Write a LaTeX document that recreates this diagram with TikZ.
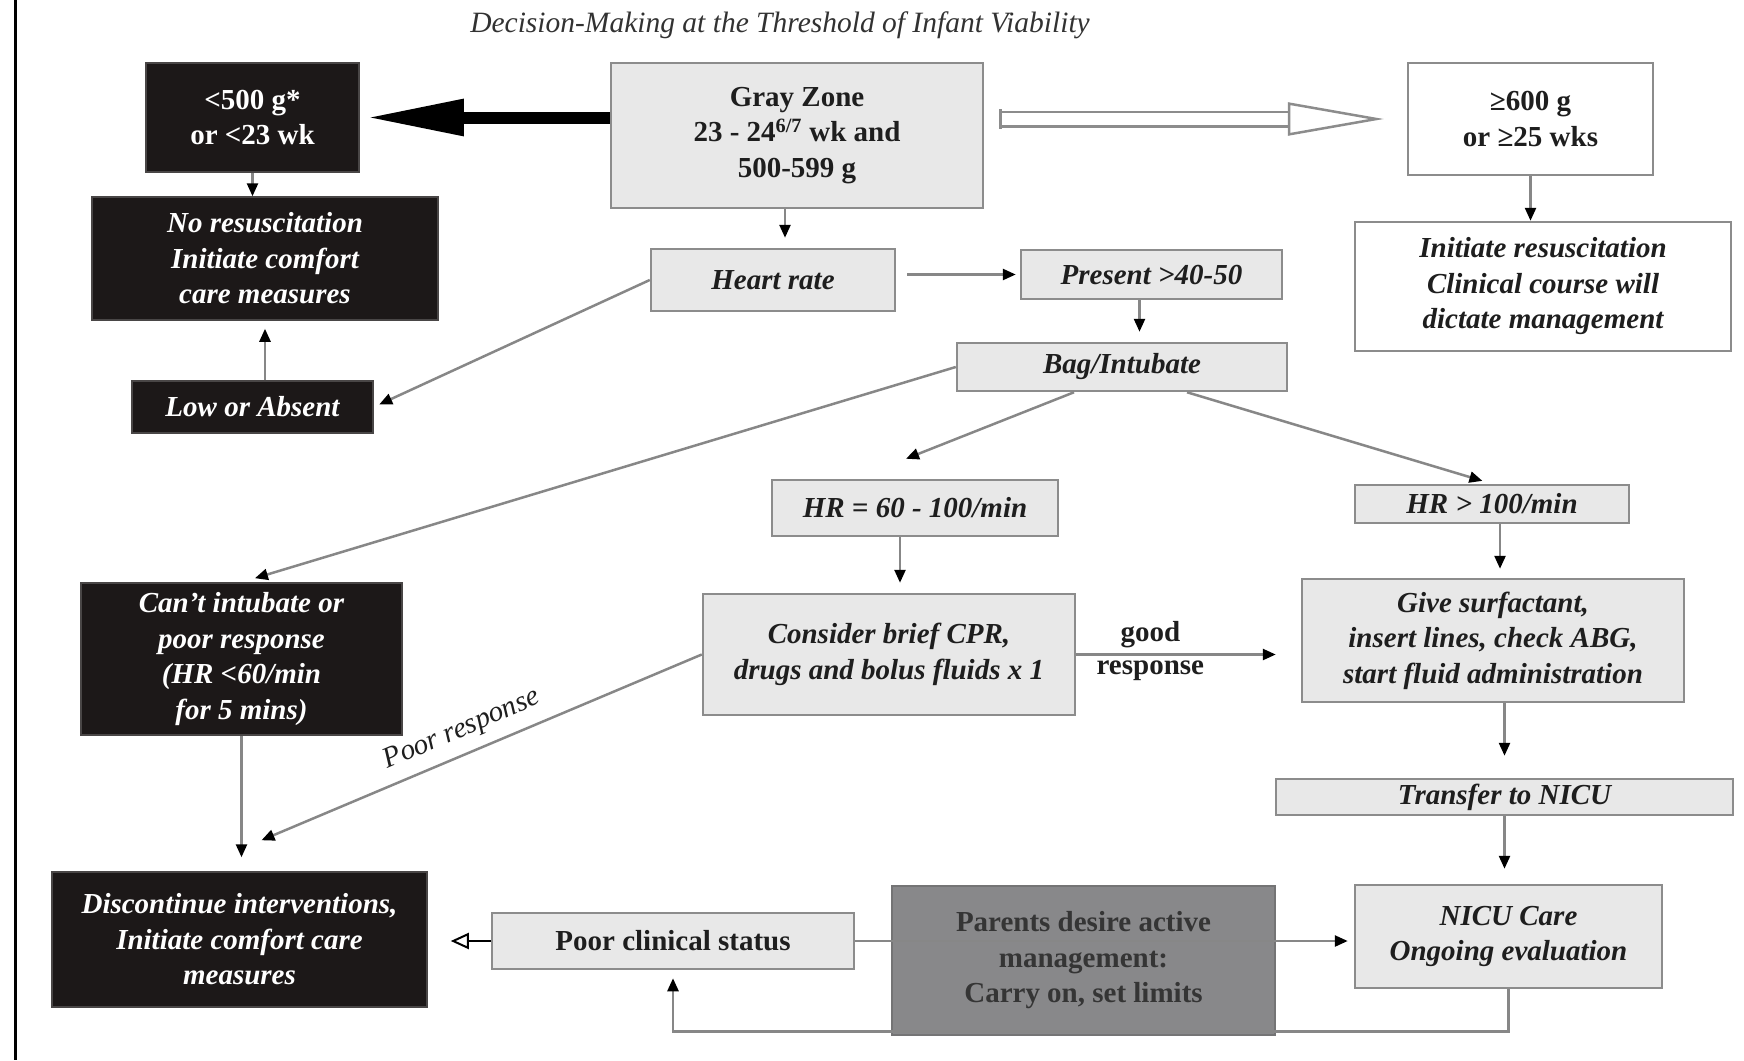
\documentclass[tikz,border=0pt]{standalone}
\usepackage{fontspec}
\setmainfont{Liberation Serif}
\usetikzlibrary{arrows.meta}

\definecolor{inkgray}{RGB}{30,30,30}
\definecolor{titlegray}{RGB}{50,50,50}
\definecolor{boxgray}{RGB}{232,232,232}
\definecolor{edgegray}{RGB}{140,140,140}
\definecolor{linegray}{RGB}{135,135,135}
\definecolor{boxblack}{RGB}{28,24,24}
\definecolor{parentgray}{RGB}{136,136,138}

\newcommand{\flowfont}{\fontsize{29}{35.5}\selectfont\bfseries}

\begin{document}
\begin{tikzpicture}[
    x=1pt, y=-1pt,
    lightbox/.style={draw=edgegray, line width=2.5pt, fill=boxgray, text=inkgray,
                     align=center, inner sep=2pt, font=\flowfont\itshape},
    plainbox/.style={lightbox, fill=white},
    darkbox/.style={draw=boxblack!80!white, line width=1.5pt, fill=boxblack, text=white,
                    align=center, inner sep=2pt, font=\flowfont\itshape},
    parentbox/.style={draw=parentgray!85!black, line width=2pt, fill=parentgray,
                      text=inkgray!90!white, align=center, inner sep=2pt, font=\flowfont},
    upright/.style={font=\flowfont},
    arr/.style={draw=linegray, line width=2.5pt, -{Triangle[length=13pt, width=11pt, color=black]}},
    bigarr/.style={draw=black, line width=12pt, -{Triangle[length=98pt, width=34pt]}},
    hollowarr/.style={draw=edgegray, line width=2.5pt, double=white, double distance=12pt,
                      {Bar[width=19.5pt]}-{Triangle[open, length=96pt, width=33pt, fill=white]}},
    openarr/.style={draw=black, line width=2pt, -{Triangle[open, length=18pt, width=16pt, fill=white]}},
    lbl/.style={font=\flowfont, text=inkgray, inner sep=2pt},
  ]
  \useasboundingbox (0,0) rectangle (1744,1060);

  % frame edge on the left
  \draw[line width=3pt] (15.5,0) -- (15.5,1060);

  \node[font=\fontsize{29.5}{34}\selectfont\itshape, text=titlegray] (title) at (780,25)
    {Decision-Making at the Threshold of Infant Viability};

  % top row
  \node[darkbox, upright, minimum width=213pt, minimum height=109pt] (small) at (252.5,117.5)
    {<500 g*\\or <23 wk};
  \node[lightbox, upright, minimum width=372pt, minimum height=145pt] (gray) at (797,135.5)
    {Gray Zone\\23 - 24\textsuperscript{6/7} wk and\\500-599 g};
  \node[plainbox, upright, minimum width=245pt, minimum height=112pt] (big) at (1530.5,119)
    {≥600 g\\or ≥25 wks};

  \node[darkbox, minimum width=346pt, minimum height=123pt] (nores) at (265,258.5)
    {No resuscitation\\Initiate comfort\\care measures};
  \node[lightbox, minimum width=244pt, minimum height=62pt] (hrate) at (773,280) {Heart rate};
  \node[lightbox, minimum width=261pt, minimum height=49pt] (present) at (1151.5,274.5) {Present >40-50};
  \node[plainbox, minimum width=376pt, minimum height=129pt] (initres) at (1543,286.5)
    {Initiate resuscitation\\Clinical course will\\dictate management};
  \node[darkbox, minimum width=241pt, minimum height=52pt] (lowabs) at (252.5,407) {Low or Absent};
  \node[lightbox, minimum width=330pt, minimum height=48pt] (bag) at (1122,367) {Bag/Intubate};

  % middle
  \node[lightbox, minimum width=286pt, minimum height=56pt] (hrmid) at (915,508) {HR = 60 - 100/min};
  \node[lightbox, minimum width=274pt, minimum height=38pt] (hrhigh) at (1492,504) {HR > 100/min};
  \node[darkbox, minimum width=321pt, minimum height=152pt] (cant) at (241.5,659)
    {Can't intubate or\\poor response\\(HR <60/min\\for 5 mins)};
  \node[lightbox, minimum width=372pt, minimum height=121pt] (cpr) at (889,654.5)
    {Consider brief CPR,\\drugs and bolus fluids x 1};
  \node[lightbox, minimum width=382pt, minimum height=123pt] (surf) at (1493,640.5)
    {Give surfactant,\\insert lines, check ABG,\\start fluid administration};
  \node[lightbox, minimum width=457pt, minimum height=36pt] (transfer) at (1504.5,797) {Transfer to NICU};

  % bottom row
  \node[darkbox, minimum width=375pt, minimum height=135pt] (stop) at (239.5,939.5)
    {Discontinue interventions,\\Initiate comfort care\\measures};
  \node[lightbox, upright, minimum width=362pt, minimum height=56pt] (poor) at (673,941) {Poor clinical status};
  \node[parentbox, minimum width=383pt, minimum height=149pt] (parents) at (1083.5,960.5)
    {Parents desire active\\management:\\Carry on, set limits};
  \node[lightbox, minimum width=307pt, minimum height=103pt] (nicu) at (1508.5,936.5)
    {NICU Care\\Ongoing evaluation};

  % connectors
  \draw[bigarr, shorten >=6pt] (gray.west |- small.east) -- (small.east);
  \draw[hollowarr, shorten <=15pt, shorten >=23pt] (gray.east |- big.west) -- (big.west);
  \draw[arr] (small.south) -- (small.south |- nores.north);
  \draw[arr] (big.south) -- (big.south |- initres.north);
  \draw[arr, shorten >=8pt] (nores.south |- lowabs.north) -- (nores.south);
  \draw[arr, shorten >=10pt] ([xshift=-12pt]gray.south) -- ([xshift=-12pt]gray.south |- hrate.north);
  \draw[arr, shorten <=11pt, shorten >=4pt] (hrate.east |- present.west) -- (present.west);
  \draw[arr, shorten >=6pt] (hrate.west) -- (lowabs.east);
  \draw[arr, shorten >=10pt] ([xshift=-12pt]present.south) -- ([xshift=-12pt]present.south |- bag.north);
  \draw[arr, shorten >=14pt] (bag.west) -- (cant.north);
  \draw[arr] ([xshift=-48pt]bag.south) -- ([xshift=-9pt, yshift=20pt]hrmid.north);
  \draw[arr, shorten >=10pt] ([xshift=65pt]bag.south) -- (hrhigh.north);
  \draw[arr, shorten >=10pt] ([xshift=-15pt]hrmid.south) -- ([xshift=-15pt]hrmid.south |- cpr.north);
  \draw[arr, shorten >=9pt] ([xshift=8pt]hrhigh.south) -- ([xshift=8pt]hrhigh.south |- surf.north);
  \draw[arr, shorten >=25pt] (cpr.east) --
    node[lbl, above=3pt, pos=0.33] (goodlbl) {good}
    node[lbl, below=3pt, pos=0.33] (resplbl) {response} (cpr.east -| surf.west);
  \draw[arr, shorten >=22pt] (transfer.north |- surf.south) -- (transfer.north);
  \draw[arr, shorten >=15pt] (transfer.south) -- (transfer.south |- nicu.north);
  \draw[arr, shorten >=14pt] (cant.south) -- (cant.south |- stop.north);
  \draw[arr] (cpr.west) -- ([xshift=22pt, yshift=31pt]stop.north);
  \node[lbl, font=\fontsize{29}{35.5}\selectfont\itshape, rotate=23.3] (poorlbl) at (462,730) {Poor response};
  \draw[arr, shorten >=6pt] (poor.east) -- (poor.east -| nicu.west);
  \draw[openarr, shorten >=23pt] (poor.west) -- (poor.west -| stop.east);
  \draw[arr, shorten >=8pt] (nicu.south) -- ++(0,42) -| (poor.south);

\end{tikzpicture}
\end{document}
